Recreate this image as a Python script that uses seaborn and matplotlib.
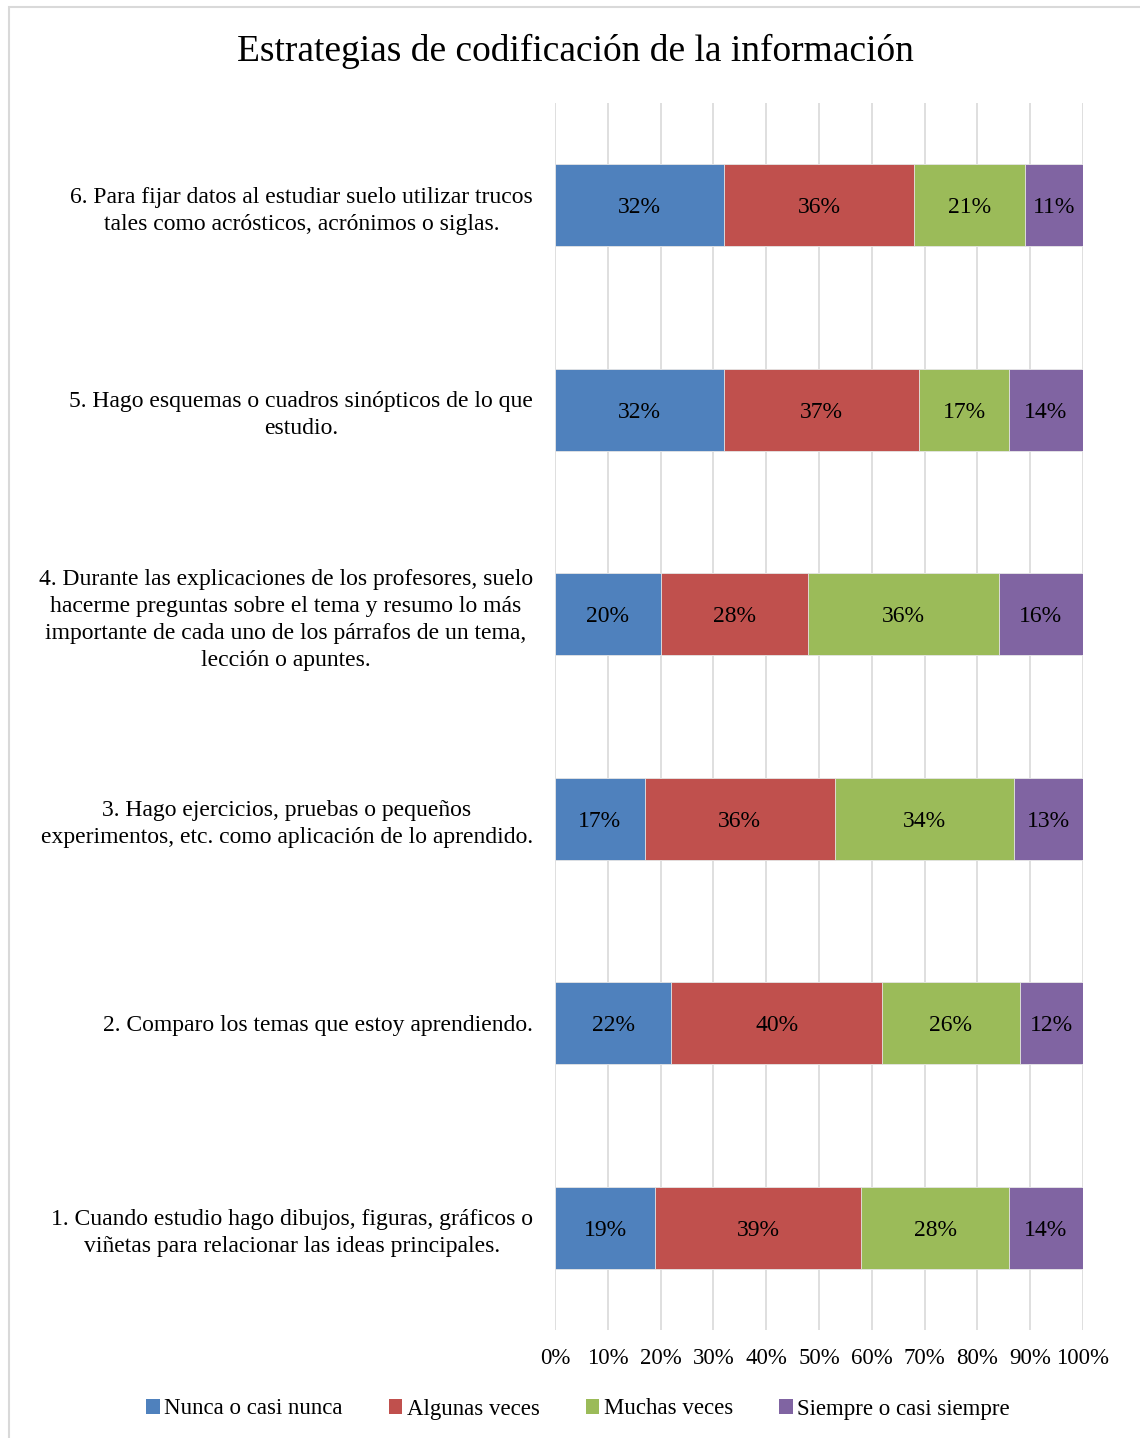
import pandas as pd
import seaborn as sns
import matplotlib.pyplot as plt
from matplotlib.patches import Rectangle, Patch

items = [
    "6. Para fijar datos al estudiar suelo utilizar trucos\ntales como acrósticos, acrónimos o siglas.",
    "5. Hago esquemas o cuadros sinópticos de lo que\nestudio.",
    "4. Durante las explicaciones de los profesores, suelo\nhacerme preguntas sobre el tema y resumo lo más\nimportante de cada uno de los párrafos de un tema,\nlección o apuntes.",
    "3. Hago ejercicios, pruebas o pequeños\nexperimentos, etc. como aplicación de lo aprendido.",
    "2. Comparo los temas que estoy aprendiendo.",
    "1. Cuando estudio hago dibujos, figuras, gráficos o\nviñetas para relacionar las ideas principales.",
]
series = ["Nunca o casi nunca", "Algunas veces", "Muchas veces", "Siempre o casi siempre"]
nunca = [32, 32, 20, 17, 22, 19]
algunas = [36, 37, 28, 36, 40, 39]
muchas = [21, 17, 36, 34, 26, 28]
siempre = [11, 14, 16, 13, 12, 14]
colors = ["#4F81BD", "#C0504D", "#9BBB59", "#8064A2"]

df = pd.DataFrame({"item": items, series[0]: nunca, series[1]: algunas,
                   series[2]: muchas, series[3]: siempre})
cum = df[series].cumsum(axis=1)

sns.set_style("white")
plt.rcParams['font.family'] = ['Liberation Serif', 'DejaVu Serif']
plt.rcParams['text.color'] = 'black'
plt.rcParams['xtick.color'] = 'black'
plt.rcParams['ytick.color'] = 'black'

fig = plt.figure(figsize=(11.4, 14.38), dpi=100)
ax = fig.add_axes([555/1140, 1-1330/1438, 528/1140, 1227/1438])

# stacked bars: draw cumulative totals from back to front
for i in range(len(series)-1, -1, -1):
    sns.barplot(x=cum[series[i]] / 100, y=df["item"], orient="h", color=colors[i],
                saturation=1, width=0.4, edgecolor="#E8E8E8", linewidth=0.6,
                ax=ax, zorder=2)

# value labels
for r in range(len(items)):
    left = 0
    for s in series:
        v = df.loc[r, s]
        ax.text((left + v/2) / 100, r, f"{v}%", ha="center", va="center_baseline",
                fontsize=17, color="black", zorder=3)
        left += v

ax.set_xlim(0, 1)
ax.set_ylim(5.5, -0.5)
ax.set_xticks([i/10 for i in range(11)])
ax.set_xticklabels([f"{i*10}%" for i in range(11)], fontsize=16.5)
ax.tick_params(axis="x", length=0, pad=13)
ax.tick_params(axis="y", length=0, pad=16)
for lab in ax.get_yticklabels():
    lab.set_fontsize(17)
    lab.set_multialignment("center")
    lab.set_linespacing(1.38)
ax.set_xlabel("")
ax.set_ylabel("")
ax.grid(axis="x", color="#D9D9D9", linewidth=1.2, zorder=0)
ax.set_axisbelow(True)
for sp in ax.spines.values():
    sp.set_visible(False)

fig.text(575/1140, 1-51/1438, "Estrategias de codificación de la información",
         ha="center", va="center", fontsize=27)

handles = [Patch(facecolor=c, edgecolor="none", label=s) for s, c in zip(series, colors)]
fig.legend(handles=handles, loc="center", bbox_to_anchor=(578/1140, 1-1409/1438),
           ncol=4, frameon=False, fontsize=16.5, handlelength=0.6, handleheight=0.6,
           handletextpad=0.2, columnspacing=2.0)

fig.patches.append(Rectangle((9/1140, -0.01), 1.2, 1-7/1438+0.01, transform=fig.transFigure,
                             fill=False, edgecolor="#D9D9D9", linewidth=1.5))

fig.savefig("out.png", dpi=100)
